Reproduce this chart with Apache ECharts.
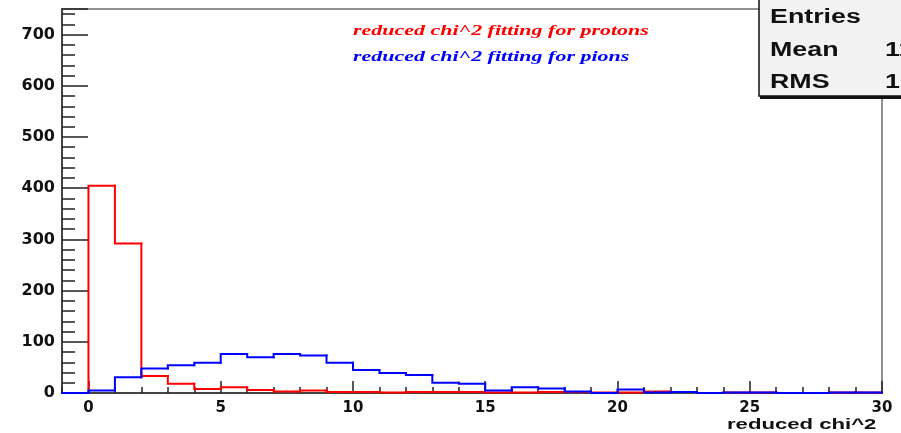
<!DOCTYPE html>
<html>
<head>
<meta charset="utf-8">
<script src="https://cdn.jsdelivr.net/npm/echarts@6/dist/echarts.min.js"></script>
<style>html,body{margin:0;padding:0;background:#fff}#c{width:901px;height:433px}</style>
</head>
<body>
<div id="c"></div>
<script>
// bin low edges start at -1, width 1
const binStart = -1;
const binWidth = 1;
const protonCounts = [0, 405, 292, 33, 18, 8, 11, 6, 3, 5, 2, 2, 1, 2, 2, 2, 1, 1, 2, 2, 1, 1, 3, 2, 0, 1, 1, 0, 0, 1, 1];
const pionCounts   = [0, 5, 31, 48, 54, 59, 76, 70, 76, 73, 59, 45, 39, 35, 20, 18, 5, 11, 9, 3, 0, 7, 1, 2, 0, 1, 1, 0, 0, 1, 1];
const xMajorTicks = [0, 5, 10, 15, 20, 25, 30];
const xMinorTicks = [-1,0,1,2,3,4,5,6,7,8,9,10,11,12,13,14,15,16,17,18,19,20,21,22,23,24,25,26,27,28,29,30];
const legendProtons = 'reduced chi^2 fitting for protons';
const legendPions = 'reduced chi^2 fitting for pions';
const xTitle = 'reduced chi^2';
const statNames = ['Entries', 'Mean', 'RMS'];
const statValues = ['', '11.32', '10.41'];

function bins(counts) {
  return counts.map((v, i) => [binStart + i * binWidth, v, i > 0 ? counts[i - 1] : 0]);
}

function histSeries(name, counts, color, z) {
  return {
    type: 'custom', name: name, z: z,
    data: bins(counts),
    encode: {x: 0, y: 1},
    renderItem: function (params, api) {
      const x0 = api.value(0), v = api.value(1), pv = api.value(2);
      const p1 = api.coord([x0, pv]);
      const p2 = api.coord([x0, v]);
      const p3 = api.coord([x0 + binWidth, v]);
      return {
        type: 'polyline',
        shape: {points: [p1, p2, p3]},
        style: {stroke: color, lineWidth: 2, fill: null, lineCap: 'square', lineJoin: 'miter'}
      };
    }
  };
}

const chart = echarts.init(document.getElementById('c'), null, {renderer: 'canvas'});
const axisFont = {fontFamily: 'DejaVu Sans', fontWeight: 'bold', fontSize: 15, color: '#111'};

chart.setOption({
  animation: false,
  backgroundColor: '#fff',
  grid: {left: 62, right: 19, top: 9, bottom: 40, show: true, borderColor: '#222', borderWidth: 1, backgroundColor: 'transparent'},
  xAxis: [
    {type: 'value', min: -1, max: 30, position: 'bottom',
     axisLine: {show: true, onZero: false, lineStyle: {color: '#444', width: 2}},
     axisTick: {show: true, inside: true, length: 12, customValues: xMajorTicks, lineStyle: {color: '#222', width: 1.5}},
     axisLabel: Object.assign({show: true, margin: 8, customValues: xMajorTicks}, axisFont),
     splitLine: {show: false}},
    {type: 'value', min: -1, max: 30, position: 'bottom',
     axisLine: {show: false},
     axisTick: {show: true, inside: true, length: 6, customValues: xMinorTicks, lineStyle: {color: '#222', width: 1.5}},
     axisLabel: {show: false},
     splitLine: {show: false}}
  ],
  yAxis: [
    {type: 'value', min: 0, max: 750, interval: 100, position: 'left',
     axisLine: {show: true, onZero: false, lineStyle: {color: '#444', width: 2}},
     axisTick: {show: true, inside: true, length: 26, lineStyle: {color: '#222', width: 1.5}},
     minorTick: {show: true, splitNumber: 5, length: 13, lineStyle: {color: '#222', width: 1.5}},
     axisLabel: Object.assign({show: true, margin: 7, showMaxLabel: false}, axisFont, {fontSize: 16}),
     splitLine: {show: false}}
  ],
  series: [
    histSeries('protons', protonCounts, '#ff0000', 3),
    histSeries('pions', pionCounts, '#0000ff', 4)
  ],
  graphic: [
    {type: 'text', x: 353, y: 31, scaleX: 1.57, z: 10,
     style: {text: legendProtons, font: 'italic bold 14px "Liberation Serif"', fill: '#ff0000', align: 'left', verticalAlign: 'middle'}},
    {type: 'text', x: 353, y: 57, scaleX: 1.57, z: 10,
     style: {text: legendPions, font: 'italic bold 14px "Liberation Serif"', fill: '#0000ff', align: 'left', verticalAlign: 'middle'}},
    {type: 'text', x: 727, y: 425, scaleX: 1.58, z: 10,
     style: {text: xTitle, font: 'bold 14px "Liberation Sans"', fill: '#111', align: 'left', verticalAlign: 'middle'}},
    {type: 'rect', shape: {x: 760, y: -10, width: 160, height: 109}, z: 19, style: {fill: '#111'}},
    {type: 'rect', shape: {x: 759, y: -10, width: 160, height: 106}, z: 20, style: {fill: '#f2f2f2', stroke: '#111', lineWidth: 1.5}},
    {type: 'text', x: 770, y: 17, scaleX: 1.34, z: 21,
     style: {text: statNames[0], font: 'bold 20px "Liberation Sans"', fill: '#111', align: 'left', verticalAlign: 'middle'}},
    {type: 'text', x: 770, y: 50, scaleX: 1.34, z: 21,
     style: {text: statNames[1], font: 'bold 20px "Liberation Sans"', fill: '#111', align: 'left', verticalAlign: 'middle'}},
    {type: 'text', x: 770, y: 82, scaleX: 1.34, z: 21,
     style: {text: statNames[2], font: 'bold 20px "Liberation Sans"', fill: '#111', align: 'left', verticalAlign: 'middle'}},
    {type: 'text', x: 885, y: 50, scaleX: 1.34, z: 21,
     style: {text: statValues[1], font: 'bold 20px "Liberation Sans"', fill: '#111', align: 'left', verticalAlign: 'middle'}},
    {type: 'text', x: 885, y: 82, scaleX: 1.34, z: 21,
     style: {text: statValues[2], font: 'bold 20px "Liberation Sans"', fill: '#111', align: 'left', verticalAlign: 'middle'}}
  ]
});
</script>
</body>
</html>
